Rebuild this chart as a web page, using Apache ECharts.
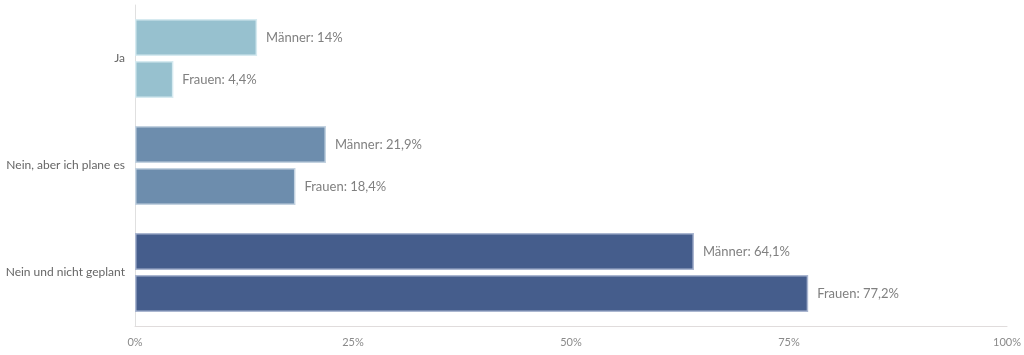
<!DOCTYPE html>
<html><head><meta charset="utf-8">
<script src="https://cdn.jsdelivr.net/npm/echarts@6/dist/echarts.min.js"></script>
<style>html,body{margin:0;padding:0;background:#fff}#c{width:1024px;height:355px}</style>
</head><body><div id="c"></div>
<script>
const categories = ['Ja', 'Nein, aber ich plane es', 'Nein und nicht geplant'];
const maenner = [14, 21.9, 64.1];
const frauen = [4.4, 18.4, 77.2];
const maennerLabels = ['14%', '21,9%', '64,1%'];
const frauenLabels = ['4,4%', '18,4%', '77,2%'];
const xTicks = [0, 25, 50, 75, 100];
const colors = ['#97c1cf', '#6d8dad', '#455d8c'];
const borders = ['#d6eaf0', '#c3d2e0', '#aab6d0'];

function mk(vals, labels, prefix) {
  return vals.map((v, i) => ({
    value: v,
    itemStyle: { color: colors[i], borderColor: borders[i], borderWidth: 1.5 },
    label: { formatter: prefix + ': ' + labels[i] }
  }));
}
const chart = echarts.init(document.getElementById('c'));
chart.setOption({
  animation: false,
  grid: { left: 135, right: 17, top: 5, bottom: 29, containLabel: false },
  xAxis: {
    type: 'value', min: 0, max: 100, interval: 25,
    axisLine: { show: true, lineStyle: { color: '#e0dcdc', width: 1 } },
    axisTick: { show: false },
    splitLine: { show: false },
    axisLabel: { formatter: v => xTicks.includes(v) ? v + '%' : '', color: '#8a8a8a', fontSize: 11, fontFamily: 'Lato', margin: 11 }
  },
  yAxis: {
    type: 'category', data: categories, inverse: true,
    axisLine: { show: true, lineStyle: { color: '#e0e0e0', width: 1 } },
    axisTick: { show: false },
    axisLabel: { color: '#666', fontSize: 12, fontFamily: 'Lato', margin: 10 }
  },
  series: [
    { name: 'Männer', type: 'bar', data: mk(maenner, maennerLabels, 'Männer'), barCategoryGap: '26%', barGap: '13%',
      label: { show: true, position: 'right', distance: 9, color: '#808080', fontSize: 13, fontFamily: 'Lato' } },
    { name: 'Frauen', type: 'bar', data: mk(frauen, frauenLabels, 'Frauen'), barCategoryGap: '26%', barGap: '13%',
      label: { show: true, position: 'right', distance: 9, color: '#808080', fontSize: 13, fontFamily: 'Lato' } }
  ]
});
</script></body></html>
